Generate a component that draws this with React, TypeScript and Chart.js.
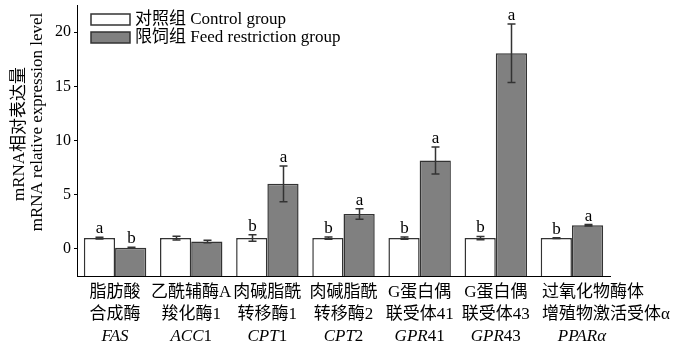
import React, { useEffect, useRef } from 'react';
import { Chart, registerables } from 'chart.js';

Chart.register(...registerables);

// ---------- data ----------
const categories = ['FAS', 'ACC1', 'CPT1', 'CPT2', 'GPR41', 'GPR43', 'PPARα'];
const labelLine1 = ['脂肪酸', '乙酰辅酶A', '肉碱脂酰', '肉碱脂酰', 'G蛋白偶', 'G蛋白偶', '过氧化物酶体'];
const labelLine2 = ['合成酶', '羧化酶1', '转移酶1', '转移酶2', '联受体41', '联受体43', '增殖物激活受体α'];
const geneItalic = ['FAS', 'ACC', 'CPT', 'CPT', 'GPR', 'GPR', 'PPARα'];
const geneSuffix = ['', '1', '1', '2', '41', '43', ''];

const seriesNames = ['对照组 Control group', '限饲组 Feed restriction group'];
const controlValues = [1.0, 1.0, 1.0, 1.0, 1.0, 1.0, 1.0];
const controlErrors = [0.08, 0.17, 0.3, 0.1, 0.1, 0.15, 0.03];
const controlLetters = ['a', '', 'b', 'b', 'b', 'b', 'b'];
const restrictionValues = [0.1, 0.68, 6.0, 3.22, 8.15, 18.05, 2.18];
const restrictionErrors = [0.05, 0.12, 1.65, 0.48, 1.25, 2.7, 0.07];
const restrictionLetters = ['b', '', 'a', 'a', 'a', 'a', 'a'];

const yTicks = [0, 5, 10, 15, 20];
const yMin = -2.5;
const yMax = 22.5;
const yTitleLines = ['mRNA相对表达量', 'mRNA relative expression level'];

// ---------- styles ----------
const FONT_FAMILY = '"Liberation Serif", "Noto Sans CJK SC", serif';
const FONT = `17px ${FONT_FAMILY}`;
const ITALIC = `italic 17px ${FONT_FAMILY}`;
const EDGE = '#333333';
const GREY = '#808080';

const overlayPlugin = {
  id: 'overlay',
  afterDatasetsDraw(chart: any) {
    const ctx = chart.ctx as CanvasRenderingContext2D;
    const ys = chart.scales.y;
    const groups = [
      { values: controlValues, errors: controlErrors, letters: controlLetters },
      { values: restrictionValues, errors: restrictionErrors, letters: restrictionLetters },
    ];
    ctx.save();
    groups.forEach((g, di) => {
      const meta = chart.getDatasetMeta(di);
      meta.data.forEach((bar: any, i: number) => {
        const x = Math.round(bar.x) + 0.5;
        const top = ys.getPixelForValue(g.values[i] + g.errors[i]);
        const bot = ys.getPixelForValue(g.values[i] - g.errors[i]);
        ctx.strokeStyle = EDGE;
        ctx.lineWidth = 1.5;
        ctx.beginPath();
        ctx.moveTo(x, top);
        ctx.lineTo(x, bot);
        ctx.moveTo(x - 4, top);
        ctx.lineTo(x + 4, top);
        ctx.moveTo(x - 4, bot);
        ctx.lineTo(x + 4, bot);
        ctx.stroke();
        if (g.letters[i]) {
          ctx.fillStyle = '#000';
          ctx.font = FONT;
          ctx.textAlign = 'center';
          ctx.textBaseline = 'alphabetic';
          ctx.fillText(g.letters[i], x, top - 4);
        }
      });
    });
    ctx.restore();
  },
  afterDraw(chart: any) {
    const ctx = chart.ctx as CanvasRenderingContext2D;
    const xs = chart.scales.x;
    const area = chart.chartArea;
    ctx.save();
    ctx.fillStyle = '#000';
    ctx.textBaseline = 'middle';

    // x-axis category labels (three lines, third with italic gene symbol)
    const catW = (area.right - area.left) / categories.length;
    categories.forEach((_, i) => {
      const cx = xs.getPixelForValue(i);
      ctx.font = FONT;
      const w1 = ctx.measureText(labelLine1[i]).width;
      const w2 = ctx.measureText(labelLine2[i]).width;
      const overflow = Math.max(w1, w2) > catW * 1.2;
      const y1 = area.bottom + 17;
      const y2 = area.bottom + 39;
      const y3 = area.bottom + 61;
      if (overflow) {
        ctx.textAlign = 'left';
        ctx.fillText(labelLine1[i], cx - 30, y1);
        ctx.fillText(labelLine2[i], cx - 30, y2);
      } else {
        ctx.textAlign = 'center';
        ctx.fillText(labelLine1[i], cx, y1);
        ctx.fillText(labelLine2[i], cx, y2);
      }
      ctx.textAlign = 'left';
      ctx.font = ITALIC;
      const wi = ctx.measureText(geneItalic[i]).width;
      ctx.font = FONT;
      const ws = ctx.measureText(geneSuffix[i]).width;
      const gx = (overflow ? cx + 10 : cx) - (wi + ws) / 2;
      ctx.font = ITALIC;
      ctx.fillText(geneItalic[i], gx, y3);
      ctx.font = FONT;
      ctx.fillText(geneSuffix[i], gx + wi, y3);
    });

    // legend inside the plot area
    const fills = ['#ffffff', GREY];
    seriesNames.forEach((name, i) => {
      const bx = area.left + 14;
      const by = area.top + 9 + i * 18;
      ctx.fillStyle = fills[i];
      ctx.fillRect(bx, by, 39, 11);
      ctx.strokeStyle = EDGE;
      ctx.lineWidth = 1.5;
      ctx.strokeRect(bx, by, 39, 11);
      ctx.fillStyle = '#000';
      ctx.font = FONT;
      ctx.textAlign = 'left';
      ctx.fillText(name, bx + 44, by + 5.5);
    });

    // y-axis title (two lines, rotated)
    ctx.font = FONT;
    ctx.textAlign = 'center';
    const titlePos = [
      [20, 134],
      [38, 122],
    ];
    yTitleLines.forEach((t, i) => {
      ctx.save();
      ctx.translate(titlePos[i][0], titlePos[i][1]);
      ctx.rotate(-Math.PI / 2);
      ctx.fillText(t, 0, 0);
      ctx.restore();
    });
    ctx.restore();
  },
};

export default function App() {
  const canvasRef = useRef<HTMLCanvasElement | null>(null);

  useEffect(() => {
    document.body.style.margin = '0';
    const canvas = canvasRef.current;
    if (!canvas) return;
    const chart = new Chart(canvas, {
      type: 'bar',
      data: {
        labels: categories,
        datasets: [
          {
            label: seriesNames[0],
            data: controlValues,
            backgroundColor: '#ffffff',
            borderColor: EDGE,
            borderWidth: 1.5,
            borderSkipped: 'start',
            base: yMin,
            barPercentage: 1.0,
            categoryPercentage: 0.82,
          } as any,
          {
            label: seriesNames[1],
            data: restrictionValues,
            backgroundColor: GREY,
            borderColor: EDGE,
            borderWidth: 1.5,
            borderSkipped: 'start',
            base: yMin,
            barPercentage: 1.0,
            categoryPercentage: 0.82,
          } as any,
        ],
      },
      options: {
        animation: false,
        responsive: false,
        devicePixelRatio: 1,
        layout: { padding: { top: 5, right: 90, left: 0, bottom: 0 } },
        plugins: {
          legend: { display: false },
          tooltip: { enabled: false },
          title: { display: false },
        },
        scales: {
          x: {
            grid: { display: false },
            border: { display: true, color: '#000', width: 1 },
            ticks: { display: false },
            afterFit: (s: any) => {
              s.height = 70;
              s.paddingLeft = 0;
              s.paddingRight = 0;
            },
          },
          y: {
            min: yMin,
            max: yMax,
            afterBuildTicks: (s: any) => {
              s.ticks = yTicks.map((v) => ({ value: v }));
            },
            grid: {
              display: true,
              drawOnChartArea: false,
              drawTicks: true,
              tickLength: 3,
              color: '#000',
            },
            border: { display: true, color: '#000', width: 1 },
            ticks: {
              color: '#000',
              padding: 3,
              font: { family: FONT_FAMILY, size: 16 },
            },
            afterFit: (s: any) => {
              s.width = 77;
              s.paddingTop = 0;
              s.paddingBottom = 0;
            },
          },
        },
      },
      plugins: [overlayPlugin],
    });
    return () => chart.destroy();
  }, []);

  return (
    <div style={{ position: 'absolute', left: 0, top: 0, width: 700, height: 346, background: '#fff' }}>
      <canvas ref={canvasRef} width={700} height={346} />
    </div>
  );
}
